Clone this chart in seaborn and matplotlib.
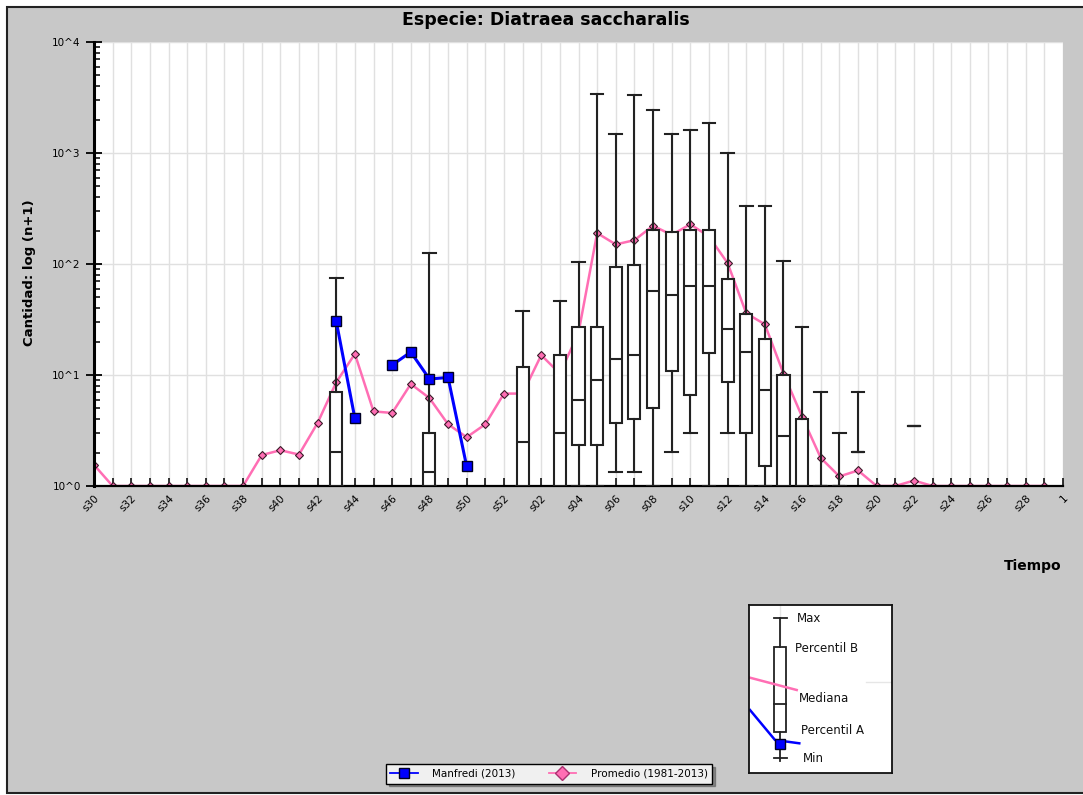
import numpy as np
import pandas as pd
import matplotlib
matplotlib.use("Agg")
import matplotlib.pyplot as plt
import seaborn as sns
from matplotlib.lines import Line2D
from matplotlib.patches import Rectangle
from matplotlib.ticker import FixedLocator, FixedFormatter, LogLocator, NullFormatter

# --------------------------------------------
# datos
# --------------------------------------------
semanas = [f"s{i}" for i in range(30, 53)] + [f"s{i:02d}" for i in range(1, 30)] + ["1"]

promedio = [1.55, 1.0, 1.0, 1.0, 1.0, 1.0, 1.0, 1.0, 1.0, 1.9,      # s30-s39
            2.1, 1.92, 3.7, 8.6, 15.5, 4.7, 4.55, 8.3, 6.2, 3.6,     # s40-s49
            2.75, 3.6, 6.8,                                          # s50-s52
            6.8, 15.1, 10.3, 24.0, 190.0, 150.0, 164.0, 221.0, 183.0, 228.0,  # s01-s10
            177.0, 102.0, 36.0, 28.6, 10.3, 4.2, 1.79, 1.22, 1.38, 1.0,     # s11-s20
            1.0, 1.12, 1.0, 1.0, 1.0, 1.0, 1.0, 1.0, 1.0,                   # s21-s29
            np.nan]                                                          # 1

manfredi_semanas = ["s43", "s44", "s46", "s47", "s48", "s49", "s50"]
manfredi_valores = [30.5, 4.06, 12.3, 16.1, 9.2, 9.5, 1.5]
manfredi_tramo = [0, 0, 1, 1, 1, 1, 1]

box_semanas = ["s43", "s48", "s01", "s03", "s04", "s05", "s06", "s07", "s08", "s09",
               "s10", "s11", "s12", "s13", "s14", "s15", "s16", "s17", "s18", "s19", "s22"]
box_min = [1.0, 1.0, 1.0, 1.0, 1.0, 1.0, 1.34, 1.34, 1.0, 2.03,
           3.01, 1.0, 3.01, 1.0, 1.0, 1.0, 1.0, 1.0, 1.0, 2.03, 3.48]
box_pa = [1.0, 1.0, 1.0, 1.0, 2.34, 2.34, 3.7, 4.02, 5.0, 10.8,
          6.6, 15.7, 8.6, 3.01, 1.5, 1.0, 1.0, 1.0, 1.0, 2.03, 3.48]
box_med = [2.03, 1.34, 2.51, 3.0, 5.97, 9.1, 13.9, 15.1, 57.0, 53.0,
           64.0, 64.0, 26.0, 16.1, 7.4, 2.83, 1.0, 1.0, 1.0, 2.03, 3.48]
box_pb = [6.97, 3.01, 11.7, 15.1, 26.9, 26.9, 94.8, 98.0, 202.0, 196.0,
          202.0, 202.0, 73.0, 35.2, 21.2, 10.0, 4.02, 1.0, 1.0, 2.03, 3.48]
box_max = [74.5, 125.0, 37.7, 46.4, 104.0, 3400.0, 1480.0, 3300.0, 2440.0, 1480.0,
           1610.0, 1880.0, 1000.0, 334.0, 334.0, 107.0, 26.9, 6.97, 2.99, 6.97, 3.48]

y_ticks = [1, 10, 100, 1000, 10000]
y_labels = ["10^0", "10^1", "10^2", "10^3", "10^4"]

ROSA = "#ff6eb4"
AZUL = "#0000ff"
GRIS = "#c8c8c8"

# --------------------------------------------
# figura
# --------------------------------------------
W, H = 1083, 795
fig = plt.figure(figsize=(W / 100, H / 100), dpi=100, facecolor="white")
fig.patches.append(Rectangle((7 / W, 1 - 793 / H), 1.2, (793 - 7) / H, transform=fig.transFigure,
                             facecolor=GRIS, edgecolor="#222222", lw=1.5, zorder=-10))

ax = fig.add_axes([94 / W, 1 - 486 / H, (1063 - 94) / W, (486 - 42) / H])
ax.set_facecolor("white")
ax.set_yscale("log")

pos = {s: i for i, s in enumerate(semanas)}

df_prom = pd.DataFrame({"x": np.arange(len(semanas)), "valor": promedio}).dropna()
sns.lineplot(data=df_prom, x="x", y="valor", color=ROSA, lw=1.8, marker="D", markersize=4.2,
             markerfacecolor=ROSA, markeredgecolor="#3a1a28", markeredgewidth=0.8,
             ax=ax, zorder=2, legend=False)

stats = []
for s, lo, pa, me, pb, hi in zip(box_semanas, box_min, box_pa, box_med, box_pb, box_max):
    stats.append(dict(whislo=lo, q1=pa, med=me, q3=pb, whishi=hi, label=s))
ax.bxp(stats, positions=[pos[s] for s in box_semanas], widths=0.65, capwidths=0.68,
       patch_artist=True, showfliers=False, manage_ticks=False,
       boxprops=dict(facecolor="white", edgecolor="#222222", lw=1.5),
       whiskerprops=dict(color="#222222", lw=1.5),
       capprops=dict(color="#222222", lw=1.5),
       medianprops=dict(color="#222222", lw=1.5), zorder=3)

df_man = pd.DataFrame({"x": [pos[s] for s in manfredi_semanas], "valor": manfredi_valores,
                       "tramo": manfredi_tramo})
sns.lineplot(data=df_man, x="x", y="valor", units="tramo", estimator=None, color=AZUL, lw=2.2,
             marker="s", markersize=6.5, markerfacecolor=AZUL, markeredgecolor="#000022",
             markeredgewidth=1, ax=ax, zorder=5, legend=False)

ax.set_xlim(0, len(semanas) - 1)
ax.set_ylim(1, 10000)
ax.set_xticks(range(len(semanas)))
ax.set_xticklabels([s if i % 2 == 0 else "" for i, s in enumerate(semanas)])
for lbl in ax.get_xticklabels():
    lbl.set_rotation(45)
    lbl.set_ha("right")
    lbl.set_va("top")
    lbl.set_rotation_mode("anchor")

ax.yaxis.set_major_locator(FixedLocator(y_ticks))
ax.yaxis.set_major_formatter(FixedFormatter(y_labels))
ax.yaxis.set_minor_locator(LogLocator(base=10, subs=range(2, 10)))
ax.yaxis.set_minor_formatter(NullFormatter())

ax.tick_params(axis="x", direction="in", length=6, width=1.2, labelsize=7.5, pad=5, color="#111111")
ax.tick_params(axis="y", which="major", direction="inout", length=11, width=1.3, labelsize=7.5, pad=4)
ax.tick_params(axis="y", which="minor", direction="in", length=4, width=1.1)

ax.grid(axis="x", color="#e0e0e0", lw=1)
ax.grid(axis="y", which="major", color="#e0e0e0", lw=1)
ax.set_axisbelow(True)
ax.set_xlabel("")
ax.set_ylabel("")
for side in ["top", "right"]:
    ax.spines[side].set_visible(False)
ax.spines["left"].set_linewidth(2.2)
ax.spines["bottom"].set_linewidth(1.6)

# textos
fig.text(546 / W, 1 - 20 / H, "Especie: Diatraea saccharalis", ha="center", va="center",
         fontsize=12.5, fontweight="bold")
fig.text(30 / W, 1 - 273 / H, "Cantidad: log (n+1)", ha="center", va="center", rotation=90,
         fontsize=9.5, fontweight="bold")
fig.text(1062 / W, 1 - 566 / H, "Tiempo", ha="right", va="center", fontsize=10, fontweight="bold")

# leyenda de series
handles = [Line2D([], [], color=AZUL, lw=1.3, marker="s", markersize=7, markerfacecolor=AZUL,
                  markeredgecolor="#000022"),
           Line2D([], [], color=ROSA, lw=1.3, marker="D", markersize=7, markerfacecolor=ROSA,
                  markeredgecolor="#aa3070")]
leg = fig.legend(handles, ["Manfredi (2013)", "Promedio (1981-2013)"], loc="center",
                 bbox_to_anchor=(549 / W, 1 - 774 / H), ncol=2, fontsize=7.5, frameon=True,
                 fancybox=False, shadow=True, edgecolor="black", facecolor="#f0f0f0",
                 handlelength=2.6, handletextpad=1.4, columnspacing=3.2, borderpad=0.45,
                 borderaxespad=0.2)
leg.get_frame().set_linewidth(1.0)
leg.get_frame().set_alpha(1)

# leyenda de la caja
axl = fig.add_axes([749 / W, 1 - 773 / H, 143 / W, 168 / H])
axl.set_xlim(0, 143)
axl.set_ylim(168, 0)
axl.set_facecolor("white")
axl.set_xticks([])
axl.set_yticks([])
for sp in axl.spines.values():
    sp.set_linewidth(1.3)
    sp.set_color("#111111")
axl.plot([31, 31], [0, 40], color="#e6e6e6", lw=1)
axl.plot([117, 143], [77, 77], color="#e6e6e6", lw=1)
axl.plot([1, 47.7], [72.7, 85], color=ROSA, lw=1.8)
axl.plot([31.3, 31.3], [13.3, 42.3], color="#222222", lw=1.3)
axl.plot([31.3, 31.3], [127.3, 156], color="#222222", lw=1.3)
axl.plot([25, 37.6], [13.3, 13.3], color="#222222", lw=1.3)
axl.plot([25, 37.6], [153.3, 153.3], color="#222222", lw=1.3)
axl.add_patch(Rectangle((25.3, 42.3), 11.7, 85, facecolor="white", edgecolor="#222222", lw=1.3))
axl.plot([25.3, 37], [98.7, 98.7], color="#222222", lw=1.3)
axl.plot([1, 26, 50.3], [105, 135, 138.3], color=AZUL, lw=1.8)
axl.plot([31.3], [139], marker="s", markersize=6.5, color=AZUL, markeredgecolor="#000022")
for txt, x, y in [("Max", 48, 13), ("Percentil B", 46, 43), ("Mediana", 50, 94),
                  ("Percentil A", 51.7, 125), ("Min", 54, 153)]:
    axl.text(x, y, txt, fontsize=8.5, va="center", ha="left", color="#111111")

fig.savefig("out.png", dpi=100)
